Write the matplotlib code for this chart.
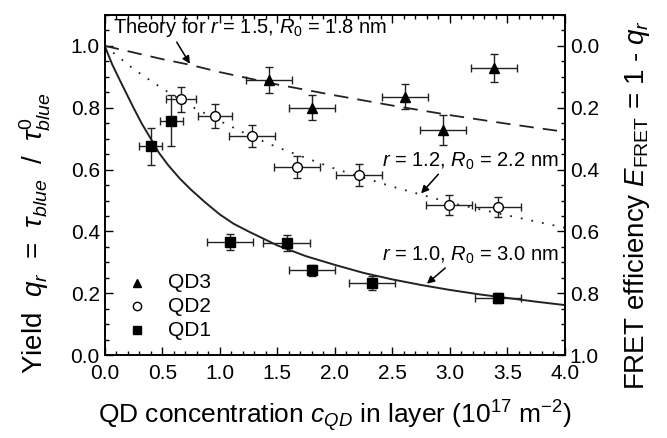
import numpy as np
import matplotlib
matplotlib.use("Agg")
import matplotlib.pyplot as plt
from matplotlib.ticker import MultipleLocator, FormatStrFormatter

plt.rcParams['font.family'] = ['Liberation Sans', 'DejaVu Sans']
plt.rcParams['mathtext.fontset'] = 'custom'
plt.rcParams['mathtext.rm'] = 'Liberation Sans'
plt.rcParams['mathtext.it'] = 'Liberation Sans:italic'
plt.rcParams['mathtext.bf'] = 'Liberation Sans:bold'

# measured data (x = QD concentration, y = yield q_r)
qd1_x = [0.40, 0.58, 1.09, 1.58, 1.80, 2.32, 3.42]
qd1_y = [0.675, 0.758, 0.366, 0.363, 0.275, 0.233, 0.185]
qd1_xerr = [0.10, 0.10, 0.20, 0.20, 0.20, 0.20, 0.20]
qd1_yerr = [0.06, 0.082, 0.025, 0.025, 0.018, 0.022, 0.015]

qd2_x = [0.66, 0.96, 1.28, 1.67, 2.21, 2.99, 3.42]
qd2_y = [0.827, 0.772, 0.708, 0.608, 0.583, 0.486, 0.480]
qd2_xerr = [0.13, 0.15, 0.20, 0.20, 0.20, 0.20, 0.20]
qd2_yerr = [0.04, 0.039, 0.035, 0.035, 0.035, 0.033, 0.033]

qd3_x = [1.43, 1.80, 2.61, 2.94, 3.38]
qd3_y = [0.888, 0.800, 0.836, 0.728, 0.929]
qd3_xerr = [0.20, 0.20, 0.20, 0.20, 0.20]
qd3_yerr = [0.042, 0.040, 0.040, 0.050, 0.045]

# theory curves
th10_x = [0, 0.065, 0.13, 0.19, 0.25, 0.32, 0.40, 0.47, 0.55, 0.65, 0.75, 0.87, 1.0, 1.12, 1.25, 1.5, 1.75, 2.0, 2.25, 2.5, 2.75, 3.0, 3.25, 3.5, 3.75, 4.0]
th10_y = [1.0, 0.94, 0.89, 0.845, 0.80, 0.75, 0.70, 0.655, 0.615, 0.572, 0.535, 0.495, 0.455, 0.425, 0.400, 0.355, 0.320, 0.292, 0.266, 0.245, 0.227, 0.211, 0.197, 0.185, 0.173, 0.162]

th12_x = [0, 0.25, 0.5, 0.75, 1.0, 1.25, 1.5, 2.0, 2.5, 3.0, 3.5, 4.0]
th12_y = [1.0, 0.925, 0.862, 0.805, 0.757, 0.712, 0.672, 0.603, 0.545, 0.493, 0.452, 0.412]

th15_x = [0, 0.5, 0.75, 1.0, 1.25, 1.5, 2.0, 2.5, 3.0, 3.5, 4.0]
th15_y = [1.0, 0.957, 0.938, 0.915, 0.895, 0.875, 0.840, 0.807, 0.776, 0.748, 0.722]

legend_labels = ['QD3', 'QD2', 'QD1']

fig = plt.figure(figsize=(6.67, 4.38), dpi=100)
ax = fig.add_axes([0.157, 0.189, 0.69, 0.777])

ax.plot(th10_x, th10_y, '-', color='#222222', lw=1.4)
ax.plot(th12_x, th12_y, color='#222222', lw=1.3, linestyle=(0, (1, 5)))
ax.plot(th15_x, th15_y, color='#222222', lw=1.3, linestyle=(0, (8, 5)))

ebkw = dict(ecolor='#222222', elinewidth=1.0, capsize=3, capthick=1.0, linestyle='none')
ax.errorbar(qd3_x, qd3_y, xerr=qd3_xerr, yerr=qd3_yerr, marker='^', ms=7.5,
            mfc='black', mec='black', **ebkw)
ax.errorbar(qd2_x, qd2_y, xerr=qd2_xerr, yerr=qd2_yerr, marker='o', ms=7,
            mfc='white', mec='black', mew=1.0, **ebkw)
ax.errorbar(qd1_x, qd1_y, xerr=qd1_xerr, yerr=qd1_yerr, marker='s', ms=6.5,
            mfc='black', mec='black', **ebkw)

# legend built by hand (markers only, no error bars)
lx, tx = 0.28, 0.55
for yy, mk, fc, lab in zip([0.234, 0.159, 0.081], ['^', 'o', 's'], ['black', 'white', 'black'], legend_labels):
    ax.plot([lx], [yy], marker=mk, ms=6, mfc=fc, mec='black', mew=1.0, ls='none')
    ax.text(tx, yy, lab, fontsize=15, va='center', ha='left')

arw = dict(arrowstyle='-|>', color='black', lw=1.1, mutation_scale=11, shrinkA=0, shrinkB=0)
ax.text(0.07, 1.058, r'Theory for $r$ = 1.5, $R_{\mathit{0}}$ = 1.8 nm', fontsize=14.5, va='center')
ax.annotate('', xy=(0.74, 0.942), xytext=(0.626, 1.012), arrowprops=arw)
ax.text(3.95, 0.627, r'$r$ = 1.2, $R_{\mathit{0}}$ = 2.2 nm', fontsize=14.5, va='center', ha='right')
ax.annotate('', xy=(2.75, 0.523), xytext=(2.90, 0.585), arrowprops=arw)
ax.text(3.95, 0.322, r'$r$ = 1.0, $R_{\mathit{0}}$ = 3.0 nm', fontsize=14.5, va='center', ha='right')
ax.annotate('', xy=(2.80, 0.231), xytext=(2.96, 0.282), arrowprops=arw)

ax.set_xlim(0, 4)
ax.set_ylim(0, 1.1)
ax.xaxis.set_major_locator(MultipleLocator(0.5))
ax.xaxis.set_minor_locator(MultipleLocator(0.1))
ax.yaxis.set_minor_locator(MultipleLocator(0.05))
ax.set_yticks([0, 0.2, 0.4, 0.6, 0.8, 1.0])
ax.tick_params(which='both', direction='in', top=True, right=False, labelsize=15, width=1.0)
ax.tick_params(which='major', length=5.5)
ax.tick_params(which='minor', length=3)
ax.tick_params(axis='x', which='major', pad=6)
ax.xaxis.set_major_formatter(FormatStrFormatter('%.1f'))
ax.yaxis.set_major_formatter(FormatStrFormatter('%.1f'))
for s in ax.spines.values():
    s.set_linewidth(1.2)

ax.set_xlabel('QD concentration $c_{QD}$ in layer (10$^{17}$ m$^{-2}$)', fontsize=19, labelpad=11)
ax.set_ylabel(r'Yield  $q_r$  =  $\tau_{blue}$  /  $\tau^{0}_{blue}$', fontsize=20)
ax.yaxis.set_label_coords(-0.113, 0.36)

ax2 = ax.twinx()
ax2.set_ylim(1.0, -0.1)
ax2.yaxis.set_minor_locator(MultipleLocator(0.05))
ax2.set_yticks([0, 0.2, 0.4, 0.6, 0.8, 1.0])
ax2.yaxis.set_major_formatter(FormatStrFormatter('%.1f'))
ax2.tick_params(which='both', direction='in', labelsize=15, width=1.0)
ax2.tick_params(which='major', length=5.5)
ax2.tick_params(which='minor', length=3)
ax2.set_ylabel(r'FRET efficiency $E_{\mathrm{FRET}}$ = 1 - $q_r$', fontsize=20)
ax2.yaxis.set_label_coords(1.124, 0.44)
for s in ax2.spines.values():
    s.set_linewidth(1.2)

fig.savefig('out.png', dpi=100)
